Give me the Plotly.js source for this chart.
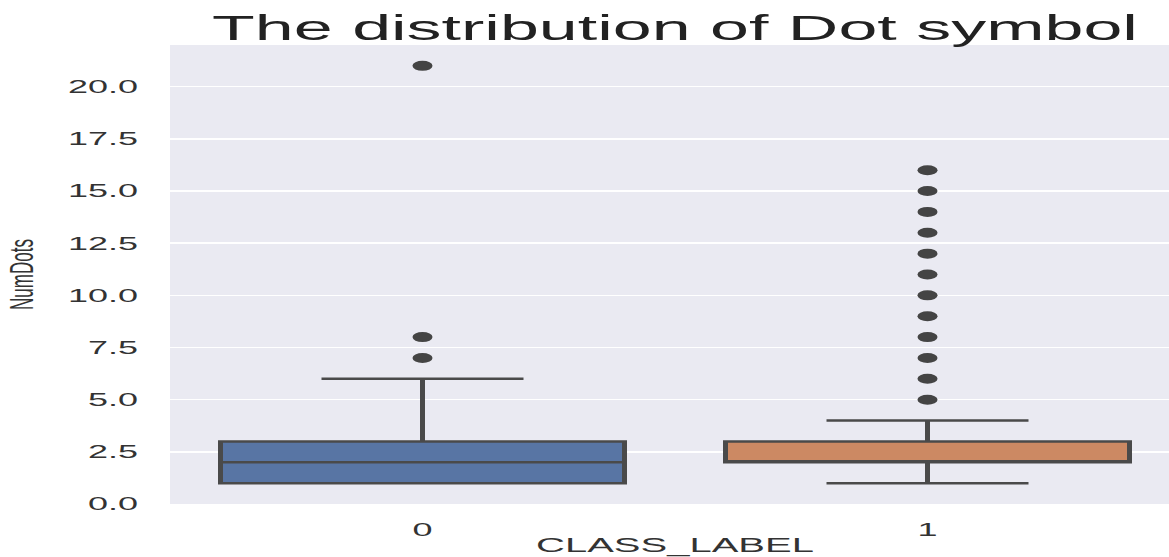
<!DOCTYPE html>
<html>
<head>
<meta charset="utf-8">
<script src="https://cdn.plot.ly/plotly-3.0.1.min.js"></script>
<style>
  html, body { margin: 0; padding: 0; background: #ffffff; overflow: hidden; width: 1169px; height: 557px; }
  #chart { transform: scaleX(2); transform-origin: 0 0; width: 590px; height: 557px; }
</style>
</head>
<body>
<div id="chart"></div>
<script>
// ---- data ----
const categories = [0, 1];
const tickLabels = ['0', '1'];
const q1 = [1, 2];
const medians = [2, 2];
const q3 = [3, 3];
const lowerWhiskers = [1, 1];
const upperWhiskers = [6, 4];
const outliersClass0 = [7, 8, 21];
const outliersClass1 = [5, 6, 7, 8, 9, 10, 11, 12, 13, 14, 15, 16];
const boxColors = ['#5875a4', '#cc8963'];
const yTickValues = [0, 2.5, 5, 7.5, 10, 12.5, 15, 17.5, 20];
const yTickLabels = ['0.0', '2.5', '5.0', '7.5', '10.0', '12.5', '15.0', '17.5', '20.0'];

const outliers = [outliersClass0, outliersClass1];
const edgeColor = '#4a4a4a';

const traces = [];
categories.forEach((c, i) => {
  traces.push({
    type: 'box',
    x: [c],
    q1: [q1[i]],
    median: [medians[i]],
    q3: [q3[i]],
    lowerfence: [lowerWhiskers[i]],
    upperfence: [upperWhiskers[i]],
    width: 0.8,
    whiskerwidth: 0.5,
    boxpoints: false,
    fillcolor: boxColors[i],
    line: { color: edgeColor, width: 2.5 },
    showlegend: false,
    hoverinfo: 'skip'
  });
  traces.push({
    type: 'scatter',
    mode: 'markers',
    x: outliers[i].map(() => c),
    y: outliers[i],
    marker: { color: '#444444', size: 10, symbol: 'circle' },
    showlegend: false,
    hoverinfo: 'skip'
  });
});

const fam = 'Liberation Sans, Arial, sans-serif';
const tickFont = { family: fam, size: 18, color: '#333333' };

const layout = {
  width: 590,
  height: 557,
  margin: { l: 85, r: 0, t: 45, b: 53 },
  paper_bgcolor: '#ffffff',
  plot_bgcolor: '#eaeaf2',
  title: {
    text: 'The distribution of Dot symbol',
    font: { family: fam, size: 35, color: '#222222' },
    x: 0.5, xref: 'paper', xanchor: 'center',
    y: 1 - 28 / 557, yref: 'container', yanchor: 'middle'
  },
  xaxis: {
    range: [-0.5, 1.5],
    tickvals: categories,
    ticktext: tickLabels,
    showgrid: false,
    zeroline: false,
    showline: false,
    ticks: '',
    tickfont: tickFont,
    ticklabelstandoff: 13,
    title: { text: 'CLASS_LABEL', font: { family: fam, size: 20, color: '#333333' }, standoff: 4 },
    fixedrange: true
  },
  yaxis: {
    range: [0, 22],
    tickvals: yTickValues,
    ticktext: yTickLabels,
    showgrid: true,
    gridcolor: '#ffffff',
    gridwidth: 1.5,
    zeroline: false,
    showline: false,
    ticks: '',
    tickfont: tickFont,
    ticklabelstandoff: 15,
    title: { text: 'NumDots', font: { family: fam, size: 17, color: '#333333' }, standoff: 12 },
    fixedrange: true
  },
  showlegend: false
};

Plotly.newPlot('chart', traces, layout, { displayModeBar: false, staticPlot: true });
</script>
</body>
</html>
